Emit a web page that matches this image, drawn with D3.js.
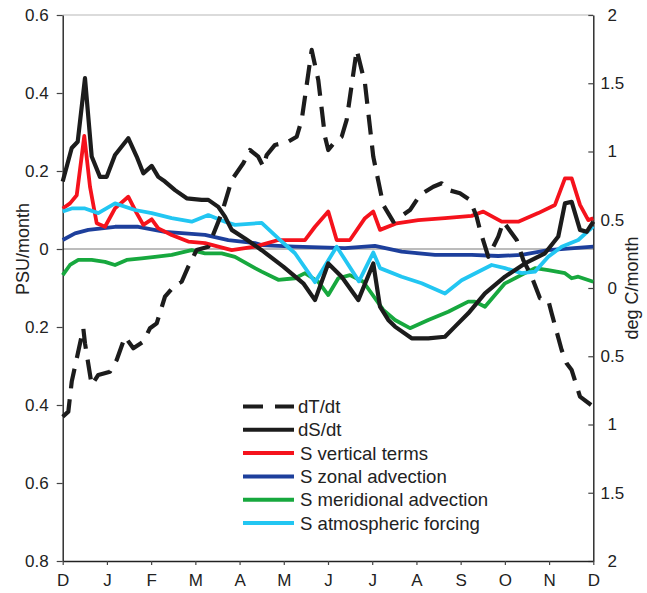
<!DOCTYPE html>
<html><head><meta charset="utf-8">
<script src="https://cdn.jsdelivr.net/npm/d3@7/dist/d3.min.js"></script>
<style>
html,body{margin:0;padding:0;background:#fff;}
svg{display:block;font-family:"Liberation Sans",Arial,Helvetica,sans-serif;}
</style></head>
<body>
<svg id="chart" width="647" height="593"></svg>
<script>
const months = ["D","J","F","M","A","M","J","J","A","S","O","N","D"];
const leftTicks = [0.6,0.4,0.2,0,-0.2,-0.4,-0.6,-0.8];
const leftTickLabels = ["0.6","0.4","0.2","0","0.2","0.4","0.6","0.8"];
const rightTicks = [2,1.5,1,0.5,0,-0.5,-1,-1.5,-2];
const rightTickLabels = ["2","1.5","1","0.5","0","0.5","1","1.5","2"];

// [month since December, value]
const dTdt = [[0,-0.943],[0.127,-0.906],[0.204,-0.686],[0.466,-0.295],[0.504,-0.405],[0.656,-0.711],[0.805,-0.637],[1.07,-0.613],[1.221,-0.527],[1.409,-0.357],[1.597,-0.442],[1.823,-0.393],[1.974,-0.295],[2.126,-0.259],[2.313,-0.064],[2.54,0.022],[2.691,0.046],[2.84,0.156],[3.03,0.278],[3.293,0.303],[3.596,0.547],[3.822,0.791],[4.084,0.914],[4.236,1.011],[4.423,0.962],[4.536,0.889],[4.613,0.974],[4.801,1.048],[5.102,1.072],[5.292,1.108],[5.405,1.231],[5.631,1.744],[5.78,1.524],[5.932,1.108],[6.006,1.011],[6.158,1.072],[6.309,1.108],[6.422,1.231],[6.649,1.744],[6.836,1.5],[7.024,0.962],[7.25,0.608],[7.476,0.486],[7.854,0.571],[8.08,0.681],[8.381,0.742],[8.571,0.767],[8.72,0.718],[8.984,0.694],[9.211,0.645],[9.362,0.522],[9.437,0.425],[9.625,0.229],[9.851,0.376],[9.964,0.486],[10.267,0.352],[10.416,0.205],[10.606,0.083],[10.794,-0.075],[10.981,-0.088],[11.058,-0.185],[11.284,-0.454],[11.396,-0.552],[11.511,-0.601],[11.699,-0.796],[11.95,-0.857]];
const dSdt = [[0,0.173],[0.204,0.259],[0.339,0.275],[0.504,0.438],[0.656,0.237],[0.843,0.185],[0.995,0.185],[1.183,0.241],[1.483,0.284],[1.673,0.237],[1.823,0.194],[2.013,0.213],[2.162,0.185],[2.313,0.173],[2.54,0.151],[2.804,0.13],[3.143,0.126],[3.293,0.126],[3.519,0.108],[3.67,0.083],[3.822,0.049],[4.123,0.027],[4.5,-0.003],[4.989,-0.045],[5.441,-0.088],[5.706,-0.131],[6.006,-0.037],[6.309,-0.071],[6.685,-0.131],[7.024,-0.037],[7.176,-0.148],[7.363,-0.182],[7.515,-0.199],[7.892,-0.229],[8.268,-0.229],[8.645,-0.225],[8.871,-0.199],[9.172,-0.165],[9.55,-0.114],[10.002,-0.071],[10.454,-0.037],[10.907,-0.011],[11.208,0.032],[11.359,0.117],[11.511,0.121],[11.699,0.049],[11.85,0.044],[12,0.07]];
const sVertical = [[0,0.104],[0.165,0.117],[0.317,0.138],[0.488,0.29],[0.617,0.16],[0.769,0.066],[0.957,0.057],[1.183,0.104],[1.483,0.134],[1.673,0.092],[1.823,0.062],[2.013,0.076],[2.162,0.053],[2.465,0.036],[2.84,0.019],[3.218,0.015],[3.822,-0.003],[4.349,0.006],[4.876,0.023],[5.479,0.023],[5.706,0.057],[6.006,0.096],[6.196,0.023],[6.497,0.023],[6.836,0.079],[7.024,0.096],[7.176,0.049],[7.553,0.066],[8.042,0.074],[8.645,0.079],[9.249,0.085],[9.512,0.096],[9.928,0.07],[10.303,0.07],[10.755,0.092],[11.133,0.113],[11.359,0.181],[11.511,0.181],[11.699,0.113],[11.886,0.074],[12,0.079]];
const sZonal = [[0,0.023],[0.278,0.04],[0.579,0.049],[1.183,0.057],[1.71,0.057],[2.313,0.044],[3.218,0.036],[3.745,0.023],[4.349,0.015],[4.5,0.01],[5.253,0.006],[6.384,0.002],[7.06,0.008],[7.666,-0.007],[8.419,-0.015],[9.249,-0.015],[9.851,-0.018],[10.38,-0.015],[10.981,-0.003],[12,0.006]];
const sMeridional = [[0,-0.067],[0.165,-0.041],[0.353,-0.028],[0.656,-0.028],[0.957,-0.033],[1.183,-0.041],[1.447,-0.028],[1.787,-0.024],[2.087,-0.02],[2.465,-0.015],[2.917,-0.003],[3.218,-0.011],[3.596,-0.011],[3.896,-0.02],[4.349,-0.049],[4.5,-0.058],[4.876,-0.079],[5.253,-0.075],[5.479,-0.062],[5.78,-0.084],[6.006,-0.118],[6.232,-0.075],[6.497,-0.067],[6.798,-0.084],[7.25,-0.156],[7.515,-0.182],[7.854,-0.203],[8.268,-0.182],[8.72,-0.161],[9.172,-0.135],[9.324,-0.135],[9.55,-0.148],[10.002,-0.088],[10.454,-0.062],[10.681,-0.049],[10.981,-0.054],[11.359,-0.062],[11.511,-0.075],[11.66,-0.071],[12,-0.084]];
const sAtmos = [[0,0.096],[0.204,0.104],[0.504,0.104],[0.805,0.092],[1.183,0.117],[1.635,0.1],[2.013,0.092],[2.465,0.079],[2.917,0.07],[3.293,0.087],[3.67,0.07],[3.896,0.062],[4.5,0.067],[4.876,0.027],[5.253,-0.011],[5.706,-0.085],[6.196,0.006],[6.7,-0.083],[7.024,-0.009],[7.176,-0.049],[7.666,-0.071],[8.118,-0.088],[8.645,-0.114],[9.023,-0.08],[9.701,-0.041],[10.002,-0.049],[10.38,-0.062],[10.681,-0.058],[10.981,-0.02],[11.284,0.006],[11.66,0.023],[12,0.058]];

const seriesNames = ["dT/dt","dS/dt","S vertical terms","S zonal advection","S meridional advection","S atmospheric forcing"];

const svg = d3.select("#chart");
const L = 62.7, R = 593.3, T = 15, B = 561;
const x = d3.scaleLinear().domain([0,12]).range([L,R]);
const yL = d3.scaleLinear().domain([-0.8,0.6]).range([B,T]);
const yR = d3.scaleLinear().domain([-2,2]).range([B,T]);

// top frame line
svg.append("line").attr("x1",L).attr("x2",R).attr("y1",T).attr("y2",T)
  .attr("stroke","#b8b8b8").attr("stroke-width",1.2);
// zero line
svg.append("line").attr("x1",L).attr("x2",R).attr("y1",yL(0)).attr("y2",yL(0))
  .attr("stroke","#7a7a7a").attr("stroke-width",1.2);

// axes
const gL = svg.append("g").attr("transform",`translate(${L},0)`)
  .call(d3.axisLeft(yL).tickValues(leftTicks).tickFormat((d,i)=>leftTickLabels[i]).tickSizeInner(6).tickSizeOuter(0).tickPadding(8));
const gR = svg.append("g").attr("transform",`translate(${R},0)`)
  .call(d3.axisRight(yR).tickValues(rightTicks).tickFormat((d,i)=>rightTickLabels[i]).tickSizeInner(-5).tickSizeOuter(0).tickPadding(19));
gR.selectAll("text").attr("text-anchor","middle");
const gB = svg.append("g").attr("transform",`translate(0,${B})`)
  .call(d3.axisBottom(x).tickValues(d3.range(13)).tickFormat(i=>months[i]).tickSizeInner(4).tickSizeOuter(0).tickPadding(9));
[gL,gR,gB].forEach(g=>{
  g.selectAll("path.domain").attr("stroke","#222").attr("stroke-width",1.4);
  g.selectAll(".tick line").attr("stroke","#444").attr("stroke-width",1.2);
  g.selectAll("text").attr("fill","#222").style("font-size","17px").style("font-family","'Liberation Sans',Arial,sans-serif");
});

// axis titles
svg.append("text").attr("transform",`translate(23,${yL(0)}) rotate(-90)`)
  .attr("text-anchor","middle").attr("dominant-baseline","central").attr("fill","#222")
  .style("font-size","18px").text("PSU/month");
svg.append("text").attr("transform",`translate(632,${yR(0)}) rotate(-90)`)
  .attr("text-anchor","middle").attr("dominant-baseline","central").attr("fill","#222")
  .style("font-size","18px").text("deg C/month");

const lineL = d3.line().x(d=>x(d[0])).y(d=>yL(d[1]));
const lineR = d3.line().x(d=>x(d[0])).y(d=>yR(d[1]));

const colors = {black:"#1c1c1c", red:"#f5121c", blue:"#1d3f9c", green:"#17a83e", cyan:"#22c6f2"};
const specs = [
  {data:sZonal, col:colors.blue, w:3.8, gen:lineL},
  {data:sMeridional, col:colors.green, w:3.8, gen:lineL},
  {data:sVertical, col:colors.red, w:3.8, gen:lineL},
  {data:sAtmos, col:colors.cyan, w:3.8, gen:lineL},
  {data:dSdt, col:colors.black, w:4.2, gen:lineL},
  {data:dTdt, col:colors.black, w:4.2, gen:lineR, dash:"20,11"}
];
specs.forEach(s=>{
  svg.append("path").attr("d",s.gen(s.data)).attr("fill","none")
    .attr("stroke",s.col).attr("stroke-width",s.w)
    .attr("stroke-linejoin","round")
    .attr("stroke-dasharray",s.dash||null);
});

// legend
const legendItems = [
  {name:seriesNames[0], col:colors.black, dash:"20,12"},
  {name:seriesNames[1], col:colors.black},
  {name:seriesNames[2], col:colors.red},
  {name:seriesNames[3], col:colors.blue},
  {name:seriesNames[4], col:colors.green},
  {name:seriesNames[5], col:colors.cyan}
];
const lg = svg.append("g");
legendItems.forEach((it,i)=>{
  const yy = 406.5 + i*23.3;
  lg.append("line").attr("x1",243).attr("x2",294).attr("y1",yy).attr("y2",yy)
    .attr("stroke",it.col).attr("stroke-width",4).attr("stroke-dasharray",it.dash||null);
  lg.append("text").attr("x", i<2 ? 298 : 300).attr("y",yy).attr("dominant-baseline","central")
    .attr("fill","#222").style("font-size","18.6px").text(it.name);
});
</script>
</body></html>
